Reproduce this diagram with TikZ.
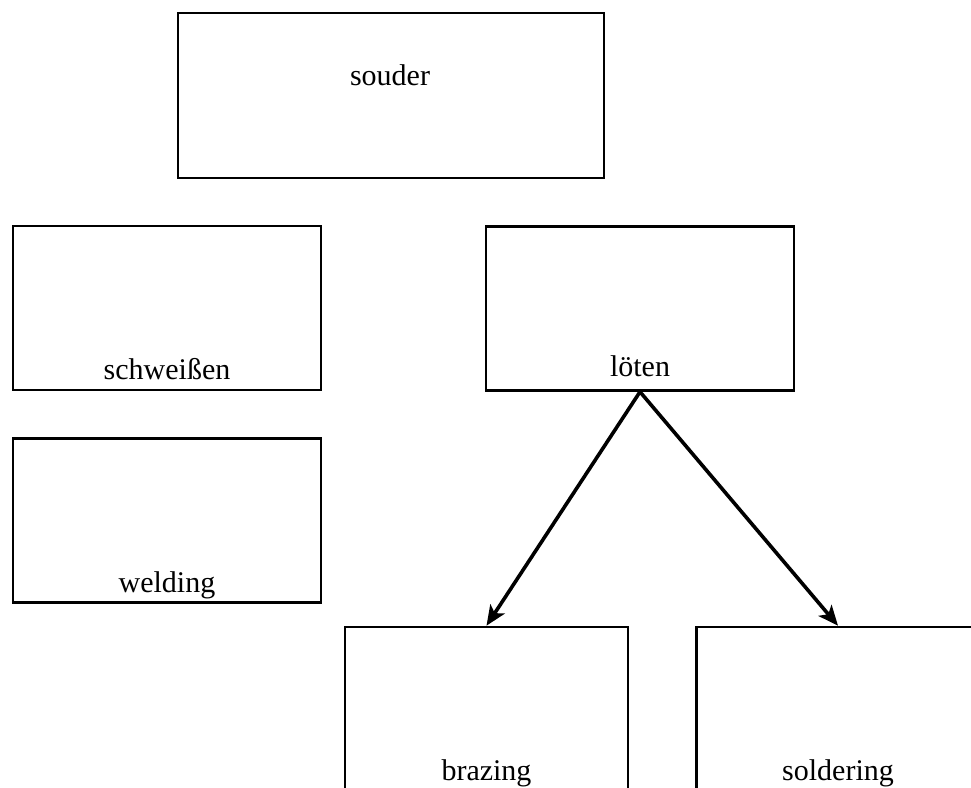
\documentclass[tikz,border=0pt]{standalone}
\usepackage{fontspec}
\setmainfont{Liberation Serif}
\usetikzlibrary{positioning,arrows.meta}
\tikzset{
  box/.style={draw, line width=2.6pt, minimum width=#1, minimum height=164pt, inner sep=0pt},
  lbl/.style={font=\fontsize{30}{35}\selectfont, inner sep=0pt, anchor=base},
  link/.style={line width=3.6pt, -{Stealth[length=20pt, width=17pt, inset=5pt]}}
}
\begin{document}
\begin{tikzpicture}[x=1pt, y=-1pt]
        \useasboundingbox (0,0) rectangle (971,787);
        % boxes
        \node[box=426pt, minimum height=165pt] (souder) at (391,95.5) {};
        \node[box=308pt] (schweissen) at (167,308) {};
        \node[box=308pt] (loeten) at (640,308.5) {};
        \node[box=308pt] (welding) at (167,520.5) {};
        \node[box=283pt, minimum height=170pt] (brazing) at (486.5,712) {};
        \node[box=283pt, minimum height=170pt] (soldering) at (838,712) {};
        % texts
        \node[lbl] (souderlbl) at (390,85) {souder};
        \node[lbl] (schweissenlbl) at ([yshift=12pt]schweissen.south) {schweißen};
        \node[lbl] (loetenlbl) at ([yshift=15pt]loeten.south) {löten};
        \node[lbl] (weldinglbl) at ([yshift=11pt]welding.south) {welding};
        \node[lbl] (brazinglbl) at (486.5,780) {brazing};
        \node[lbl] (solderinglbl) at (838,780) {soldering};
        % arrows
        \draw[link] (loeten.south) -- (brazing.north);
        \draw[link] (loeten.south) -- (soldering.north);
    \end{tikzpicture}
\end{document}
